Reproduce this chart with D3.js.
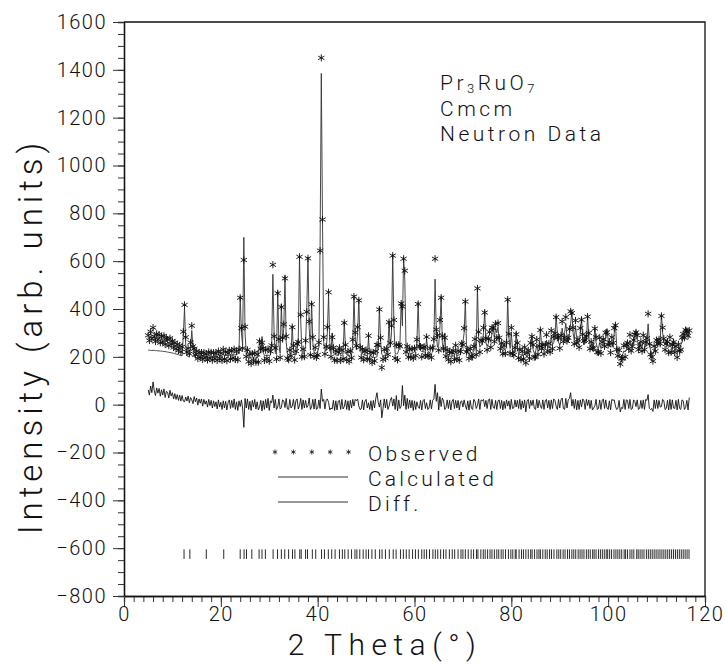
<!DOCTYPE html>
<html>
<head>
<meta charset="utf-8">
<script src="https://cdn.jsdelivr.net/npm/d3@7"></script>
<style>
  body { margin: 0; background: #fff; }
  text { font-family: Roboto, "Open Sans", sans-serif; font-weight: 300; fill: #111; }
</style>
</head>
<body>
<script>
// pattern sampled on an even 2-theta grid
var twoThetaStart = 5, twoThetaStep = 0.25;

// calculated profile, one group of 4 per degree (5 .. 116.75)
var calc = [
  228,228,227,227, 227,227,226,226, 225,225,224,224, 223,222,222,221, 220,219,218,217,
  216,215,213,212, 210,209,207,206, 204,290,405,250, 205,200,205,230, 310,240,200,196,
  195,195,194,194, 194,195,195,196, 197,197,198,199, 200,200,201,202, 203,203,204,204,
  205,205,215,205, 206,206,207,207, 207,207,208,208, 209,210,212,215, 455,300,250,700,
  300,215,205,200, 198,196,195,195, 195,196,198,200, 275,215,285,220, 205,206,207,207,
  206,207,240,545, 300,215,210,476, 250,215,420,260, 320,540,260,212, 208,206,218,330,
  225,207,208,230, 280,622,350,220, 212,215,250,400, 617,320,228,430, 260,220,215,218,
  222,240,660,1385, 760,260,230,225, 300,460,260,215, 300,220,210,208, 207,206,220,205,
  205,210,350,230, 208,206,205,207, 210,250,458,280, 230,300,442,260, 215,212,210,208,
  206,205,280,210, 203,200,198,197, 198,200,240,408, 260,210,205,206, 208,212,230,351,
  240,300,629,330, 215,212,213,230, 260,429,330,615, 520,240,218,215, 212,213,215,218,
  220,225,260,429, 260,225,222,221, 220,222,275,225, 218,216,215,220, 250,525,300,240,
  250,320,455,260, 218,300,215,210, 205,203,202,203, 204,205,230,206, 207,208,210,240,
  260,300,435,240, 215,215,216,218, 220,222,260,225, 490,280,240,250, 250,300,393,260,
  245,255,280,260, 300,330,280,320, 300,325,260,250, 240,235,232,230, 240,445,280,235,
  300,230,222,218, 304,240,212,210, 208,206,205,220, 205,202,205,210, 240,289,230,215,
  220,250,225,228, 317,250,230,232, 235,270,240,238, 240,290,250,260, 280,372,300,260,
  250,270,320,280, 300,340,280,260, 290,340,389,300, 270,330,280,255, 260,300,365,270,
  250,290,265,372, 280,250,245,260, 250,324,260,240, 235,260,235,245, 250,260,280,317,
  270,245,240,260, 240,300,338,250, 220,210,200,205, 210,225,220,230, 240,250,270,245,
  260,250,280,310, 270,250,260,245, 240,270,250,240, 260,338,270,230, 215,210,225,240,
  250,270,255,265, 379,300,260,250, 270,245,240,260, 240,230,275,235, 225,220,230,240,
  250,260,280,300, 324,290,310,280
];

// observed minus calculated, same grid
var diff = [
  62,40,78,50, 95,58,38,70, 48,68,35,62, 40,66,30,56, 52,28,60,36,
  50,24,46,22, 42,18,40,15, 38,15,12,32, 15,36,8,30, 20,4,34,12,
  28,-2,24,6, 24,-6,22,2, 16,-10,22,-4, 18,-14,16,-8, 12,-18,20,-10,
  10,-20,16,-14, 14,-22,8,20, -16,18,-12,24, -20,12,-24,16, -8,20,-14,-95,
  26,-14,24,-20, 14,-24,18,-10, 22,-18,12,-22, -10,18,-26,16, -20,22,-14,26,
  -24,16,8,40, -14,22,-20,-10, 24,-18,-12,20, 16,-12,26,-18, -20,22,-14,-6,
  22,-20,16,24, -18,-4,26,-20, 20,-14,18,-12, -5,28,-20,-10, 22,-18,24,-20,
  -14,20,-16,65, 14,22,-18,18, 24,10,-22,-14, -18,18,-24,16, -22,14,18,-20,
  22,-18,-8,20, -20,16,-24,18, -14,22,-6,22, 16,24,-6,-20, -18,20,-22,14,
  22,-14,8,-20, 16,-24,18,-14, 26,50,10,-10, 20,-55,-16,24, -14,22,-20,-6,
  18,30,-6,24, -20,38,-26,20, -16,-6,80,-5, 40,-20,26,-16, 20,-14,18,-24,
  16,-20,12,-8, -16,18,-22,16, 22,-16,8,-20, -14,20,-18,18, 24,85,14,50,
  -22,34,-8,28, 16,-20,-12,20, -16,18,-22,14, 22,-16,18,-14, 18,-22,12,16,
  -10,20,-4,-20, 16,-22,18,-14, -20,22,14,-16, -4,24,-20,20, 16,22,-8,18,
  -16,20,24,-20, 22,-10,-16,18, -20,16,20,-16, 18,-22,14,-16, 20,-6,16,-20,
  22,-16,-14,20, -10,18,-16,22, -20,16,-14,20, -30,14,22,-16, 18,-4,20,-16,
  -20,22,-14,18, -5,-16,20,-20, 16,22,-14,18, -20,20,-16,24, 18,-6,-20,22,
  -14,20,28,-16, -20,26,-14,20, 26,50,-6,22, -16,22,-22,18, -20,20,-10,24,
  16,-20,22,-4, 20,-16,18,-22, -14,-6,22,-20, -16,20,-20,16, 24,-16,20,-14,
  -20,16,-22,22, 18,20,-6,-20, -16,18,-30,-12, -16,22,-20,20, 18,-16,22,-20,
  -16,20,14,-8, 20,-20,-16,18, -16,20,-20,22, 18,42,-16,-20, -16,-28,20,-16,
  20,-16,18,-10, -8,22,16,-20, -16,18,-22,22, -20,20,-14,-16, 18,-22,22,-16,
  -20,20,16,-20, -12,18,-22,30
];

// Bragg reflection positions (2 theta)
var reflections = [
  12.4,13.6,17.0,20.6,24.0,24.8,25.3,26.4,27.9,28.5,29.2,30.8,31.7,32.5,33.2,34.0,34.8,35.3,
  36.3,36.6,37.5,37.9,38.9,39.6,40.8,41.4,42.2,42.9,43.6,44.5,45.1,45.6,46.3,47.0,47.7,48.1,
  48.7,49.4,50.0,50.5,51.2,51.9,52.8,53.3,54.0,54.8,55.6,56.2,57.1,57.7,58.3,58.9,59.6,60.2,
  60.8,61.5,62.0,62.5,63.1,63.8,64.3,64.8,65.4,66.0,66.5,67.2,67.8,68.3,69.0,69.6,70.0,70.5,
  71.1,71.7,72.2,72.8,73.1,73.7,74.2,74.6,75.1,75.6,76.0,76.5,77.0,77.4,77.9,78.3,78.8,79.4,
  79.9,80.3,80.8,81.0,81.6,82.1,82.5,83.0,83.5,84.0,84.3,84.8,85.3,85.7,86.0,86.5,87.0,87.4,
  87.9,88.3,88.8,89.4,89.8,90.2,90.7,91.1,91.6,92.0,92.5,92.9,93.3,93.8,94.2,94.6,95.0,95.5,
  95.9,96.3,96.8,97.1,97.5,98.0,98.4,98.8,99.2,99.6,99.9,100.3,100.7,101.2,101.6,102.0,102.4,
  102.8,103.3,103.6,104.0,104.5,104.9,105.3,105.9,106.2,106.6,107.0,107.4,107.9,108.3,108.7,
  109.1,109.5,109.9,110.3,110.7,111.1,111.5,111.9,112.3,112.7,113.1,113.5,113.9,114.3,114.7,
  115.1,115.5,115.9,116.3,116.7
];

var xTicks = [0, 20, 40, 60, 80, 100, 120];
var yTicks = [-800, -600, -400, -200, 0, 200, 400, 600, 800, 1000, 1200, 1400, 1600];
var legendLabels = ["Observed", "Calculated", "Diff."];

var width = 725, height = 664;

var svg = d3.select("body").append("svg")
    .attr("width", width)
    .attr("height", height);

var x = d3.scaleLinear().domain([0, 120]).range([124, 705]);
var y = d3.scaleLinear().domain([-800, 1600]).range([596, 22]);

var pts = calc.map(function(c, i) {
  return { t: twoThetaStart + i * twoThetaStep, calc: c, diff: diff[i], obs: c + diff[i] };
});

// asterisk marker
function star(cx, cy, r) {
  var a = r * 0.87, b = r * 0.5;
  return "M" + cx + "," + (cy - r) + "L" + cx + "," + (cy + r) +
         "M" + (cx - a) + "," + (cy - b) + "L" + (cx + a) + "," + (cy + b) +
         "M" + (cx - a) + "," + (cy + b) + "L" + (cx + a) + "," + (cy - b);
}

// frame
svg.append("path")
    .attr("d", "M" + x(0) + "," + y(1600) + "H" + x(120) + "V" + y(-800))
    .attr("fill", "none").attr("stroke", "#111").attr("stroke-width", 1.3);

// axes: major + minor ticks
svg.append("g").attr("transform", "translate(" + x(0) + ",0)")
    .call(d3.axisLeft(y).tickValues(d3.range(-800, 1601, 50)).tickSize(6).tickFormat(""));
var yAxis = svg.append("g").attr("transform", "translate(" + x(0) + ",0)")
    .call(d3.axisLeft(y).tickValues(yTicks).tickSize(11).tickPadding(6)
      .tickSizeOuter(0).tickFormat(d3.format("d")));
svg.append("g").attr("transform", "translate(0," + y(-800) + ")")
    .call(d3.axisBottom(x).tickValues(d3.range(0, 121, 2)).tickSize(6).tickFormat(""));
var xAxis = svg.append("g").attr("transform", "translate(0," + y(-800) + ")")
    .call(d3.axisBottom(x).tickValues(xTicks).tickSize(11).tickPadding(0)
      .tickSizeOuter(0).tickFormat(d3.format("d")));

svg.selectAll(".domain").attr("stroke", "#111").attr("stroke-width", 1.3);
svg.selectAll(".tick line").attr("stroke", "#333");
yAxis.selectAll("text").style("font-size", "20px").style("letter-spacing", "1.5px");
xAxis.selectAll("text").style("font-size", "20px").style("letter-spacing", "1.5px");

// axis titles
svg.append("text")
    .attr("transform", "translate(42,336) rotate(-90)")
    .attr("text-anchor", "middle")
    .style("font-size", "33px").style("letter-spacing", "5px")
    .text("Intensity (arb. units)");

svg.append("text")
    .attr("x", 385).attr("y", 655)
    .attr("text-anchor", "middle")
    .style("font-size", "30px").style("letter-spacing", "6.5px")
    .text("2 Theta(°)");

// calculated line
svg.append("path")
    .datum(pts)
    .attr("fill", "none").attr("stroke", "#333").attr("stroke-width", 0.9)
    .attr("d", d3.line().x(function(d) { return x(d.t); }).y(function(d) { return y(d.calc); }));

// observed points
svg.append("path")
    .attr("fill", "none").attr("stroke", "#111").attr("stroke-width", 0.95)
    .attr("d", pts.map(function(d) { return star(x(d.t), y(d.obs), 3.6); }).join(""));

// difference curve
svg.append("path")
    .datum(pts)
    .attr("fill", "none").attr("stroke", "#111").attr("stroke-width", 0.9)
    .attr("d", d3.line().x(function(d) { return x(d.t); }).y(function(d) { return y(d.diff); }));

// reflection markers
svg.append("g").selectAll("line")
    .data(reflections)
    .enter().append("line")
    .attr("x1", function(d) { return x(d); }).attr("x2", function(d) { return x(d); })
    .attr("y1", y(-605)).attr("y2", y(-645))
    .attr("stroke", "#111").attr("stroke-width", 0.9);

// compound / space group note
var note = svg.append("g").style("font-size", "21px").style("letter-spacing", "3.5px");
var t1 = note.append("text").attr("x", 440).attr("y", 90);
t1.append("tspan").text("Pr");
t1.append("tspan").attr("dy", 3).style("font-size", "13px").text("3");
t1.append("tspan").attr("dy", -3).text("RuO");
t1.append("tspan").attr("dy", 3).style("font-size", "13px").text("7");
note.append("text").attr("x", 440).attr("y", 116).text("Cmcm");
note.append("text").attr("x", 440).attr("y", 141).text("Neutron Data");

// legend
var lg = svg.append("g");
lg.append("path")
    .attr("fill", "none").attr("stroke", "#111").attr("stroke-width", 0.8)
    .attr("d", [0, 1, 2, 3, 4].map(function(k) { return star(275 + k * 18.4, 452, 2.5); }).join(""));
lg.append("line").attr("x1", 278).attr("x2", 348).attr("y1", 477).attr("y2", 477)
    .attr("stroke", "#333").attr("stroke-width", 1);
lg.append("line").attr("x1", 278).attr("x2", 348).attr("y1", 502).attr("y2", 502)
    .attr("stroke", "#333").attr("stroke-width", 1);
lg.selectAll("text")
    .data(legendLabels)
    .enter().append("text")
    .attr("x", 368)
    .attr("y", function(d, i) { return [461, 486, 511][i]; })
    .style("font-size", "21px").style("letter-spacing", "3.2px")
    .text(function(d) { return d; });
</script>
</body>
</html>
